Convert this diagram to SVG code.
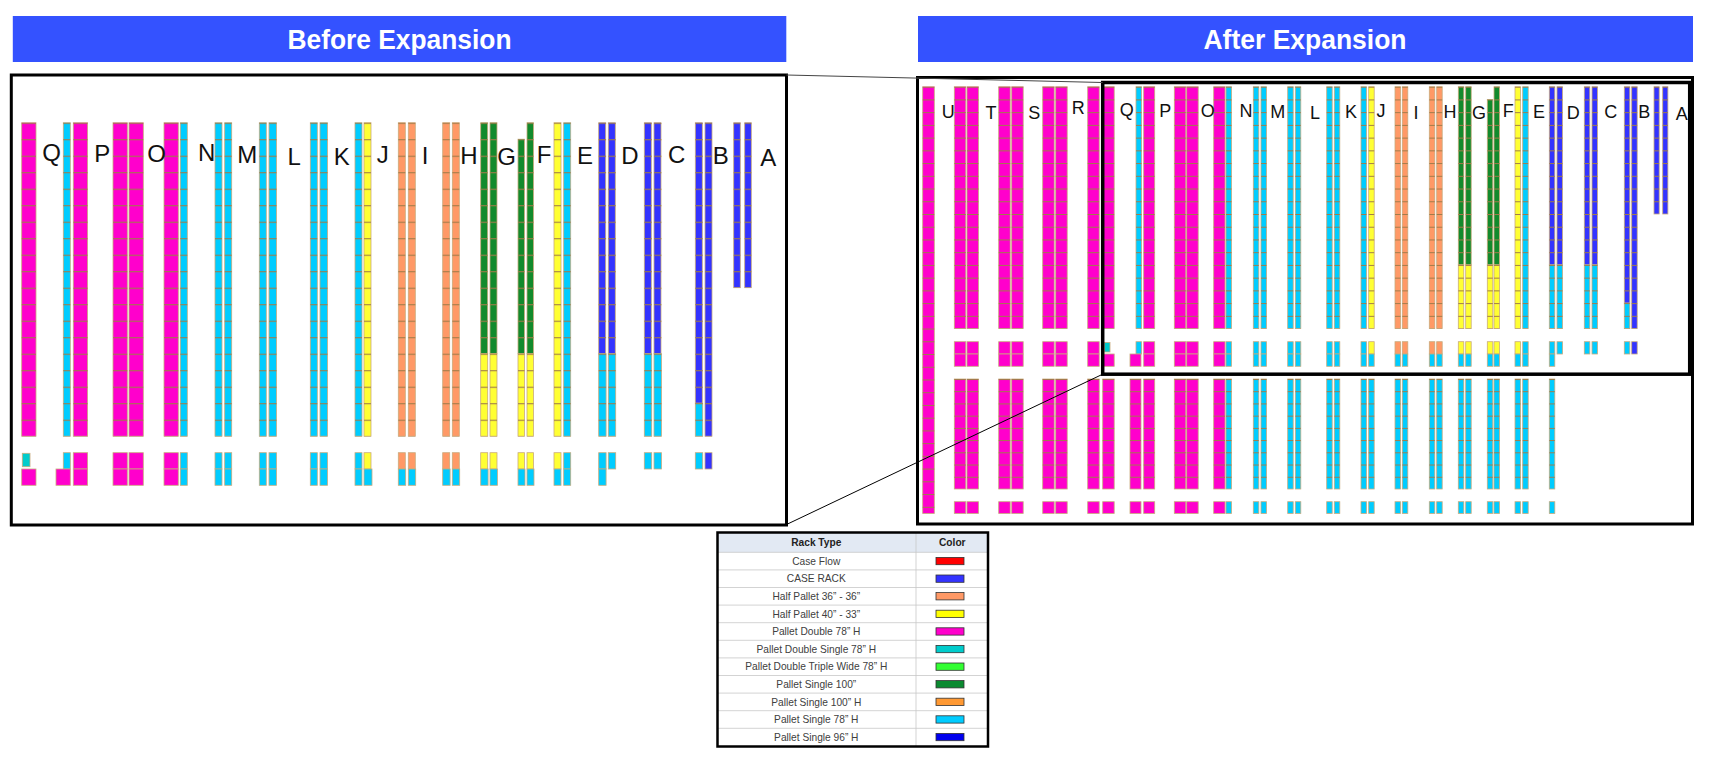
<svg xmlns="http://www.w3.org/2000/svg" width="1716" height="759" viewBox="0 0 1716 759">
<style>
rect.m,rect.c,rect.y,rect.o,rect.g,rect.b,rect.t{stroke:#c9ab7d;stroke-width:0.8}
.m{fill:#ff00cc}.c{fill:#00ccff}.y{fill:#ffff33}.o{fill:#ff9966}.g{fill:#128a2c}.b{fill:#3333ff}.t{fill:#00cccc}
.banner{fill:#3452ff}
.bt{font-family:"Liberation Sans Narrow","Liberation Sans",Arial,sans-serif;font-weight:bold;font-size:28px;fill:#fff;text-anchor:middle}
.frame{fill:none;stroke:#000}
.lb{font-family:"Liberation Sans",Arial,sans-serif;font-size:24px;fill:#111;text-anchor:middle}
.la{font-family:"Liberation Sans",Arial,sans-serif;font-size:18px;fill:#111;text-anchor:middle}
.lg{font-family:"Liberation Sans",Arial,sans-serif;font-size:10.2px;fill:#404040;text-anchor:middle}
.lgh{font-family:"Liberation Sans",Arial,sans-serif;font-size:10.2px;font-weight:bold;fill:#222;text-anchor:middle}
.sw{stroke:#333;stroke-width:0.8}
.rowl{stroke:#c8c8c8;stroke-width:0.8}
</style>
<defs>
<pattern id="pB" patternUnits="userSpaceOnUse" x="0" y="122.7" width="20" height="16.5"><rect width="20" height="1.1" fill="#a07c4a"/></pattern>
<pattern id="pA" patternUnits="userSpaceOnUse" x="0" y="86.7" width="20" height="12.73"><rect width="20" height="1" fill="#a07c4a"/></pattern>
<pattern id="pL" patternUnits="userSpaceOnUse" x="0" y="379" width="20" height="12.22"><rect width="20" height="1" fill="#a07c4a"/></pattern>
</defs>
<rect width="1716" height="759" fill="#fff"/>

<g id="before-title">
<rect class="banner" x="12.8" y="16" width="773.5" height="46"/>
<text class="bt" x="399.5" y="48.5" textLength="224" lengthAdjust="spacingAndGlyphs">Before Expansion</text>
</g>
<g id="after-title">
<rect class="banner" x="918" y="16" width="775" height="46"/>
<text class="bt" x="1305" y="48.5" textLength="203" lengthAdjust="spacingAndGlyphs">After Expansion</text>
</g>

<g id="before-panel">
<rect class="frame" x="11.3" y="75" width="775.2" height="450" stroke-width="3"/>
<g id="before-racks">
<rect class="m" x="21.7" y="122.7" width="14.3" height="313.5"/>
<rect class="c" x="63.3" y="122.7" width="7" height="313.5"/>
<rect class="m" x="73.3" y="122.7" width="14.3" height="313.5"/>
<rect class="m" x="113" y="122.7" width="14.3" height="313.5"/>
<rect class="m" x="129" y="122.7" width="14.3" height="313.5"/>
<rect class="m" x="164" y="122.7" width="14.3" height="313.5"/>
<rect class="c" x="180.3" y="122.7" width="7" height="313.5"/>
<rect class="c" x="215" y="122.7" width="7" height="313.5"/>
<rect class="c" x="224.7" y="122.7" width="7" height="313.5"/>
<rect class="c" x="259.3" y="122.7" width="7" height="313.5"/>
<rect class="c" x="269" y="122.7" width="7.5" height="313.5"/>
<rect class="c" x="310.3" y="122.7" width="7" height="313.5"/>
<rect class="c" x="320" y="122.7" width="7.5" height="313.5"/>
<rect class="c" x="355" y="122.7" width="7" height="313.5"/>
<rect class="y" x="364" y="122.7" width="7" height="313.5"/>
<rect class="o" x="398.3" y="122.7" width="7" height="313.5"/>
<rect class="o" x="408.3" y="122.7" width="7" height="313.5"/>
<rect class="o" x="442.7" y="122.7" width="7" height="313.5"/>
<rect class="o" x="452.3" y="122.7" width="7" height="313.5"/>
<rect class="g" x="480.7" y="122.7" width="7" height="231"/>
<rect class="y" x="480.7" y="353.7" width="7" height="82.5"/>
<rect class="g" x="490" y="122.7" width="7" height="231"/>
<rect class="y" x="490" y="353.7" width="7" height="82.5"/>
<rect class="g" x="518" y="139.2" width="6.5" height="214.5"/>
<rect class="y" x="518" y="353.7" width="6.5" height="82.5"/>
<rect class="g" x="527" y="122.7" width="6.5" height="231"/>
<rect class="y" x="527" y="353.7" width="6.5" height="82.5"/>
<rect class="y" x="554" y="122.7" width="7" height="313.5"/>
<rect class="c" x="563.7" y="122.7" width="7" height="313.5"/>
<rect class="b" x="598.7" y="122.7" width="7" height="231"/>
<rect class="c" x="598.7" y="353.7" width="7.4" height="82.5"/>
<rect class="b" x="608.3" y="122.7" width="7" height="231"/>
<rect class="c" x="608.3" y="353.7" width="7.4" height="82.5"/>
<rect class="b" x="644.3" y="122.7" width="7" height="231"/>
<rect class="c" x="644.3" y="353.7" width="7.4" height="82.5"/>
<rect class="b" x="654" y="122.7" width="7" height="231"/>
<rect class="c" x="654" y="353.7" width="7.4" height="82.5"/>
<rect class="b" x="695.3" y="122.7" width="7" height="280.5"/>
<rect class="c" x="695.3" y="403.2" width="7.4" height="33"/>
<rect class="b" x="705" y="122.7" width="7" height="313.5"/>
<rect class="b" x="733.7" y="122.7" width="6.6" height="165"/>
<rect class="b" x="744.7" y="122.7" width="6.6" height="165"/>
<path fill="url(#pB)" d="M21.7 122.7h14.3v313.5h-14.3zM63.3 122.7h7v313.5h-7zM73.3 122.7h14.3v313.5h-14.3zM113 122.7h14.3v313.5h-14.3zM129 122.7h14.3v313.5h-14.3zM164 122.7h14.3v313.5h-14.3zM180.3 122.7h7v313.5h-7zM215 122.7h7v313.5h-7zM224.7 122.7h7v313.5h-7zM259.3 122.7h7v313.5h-7zM269 122.7h7.5v313.5h-7.5zM310.3 122.7h7v313.5h-7zM320 122.7h7.5v313.5h-7.5zM355 122.7h7v313.5h-7zM364 122.7h7v313.5h-7zM398.3 122.7h7v313.5h-7zM408.3 122.7h7v313.5h-7zM442.7 122.7h7v313.5h-7zM452.3 122.7h7v313.5h-7zM480.7 122.7h7v313.5h-7zM490 122.7h7v313.5h-7zM518 139.2h6.5v297h-6.5zM527 122.7h6.5v313.5h-6.5zM554 122.7h7v313.5h-7zM563.7 122.7h7v313.5h-7zM598.7 122.7h7.4v313.5h-7.4zM608.3 122.7h7.4v313.5h-7.4zM644.3 122.7h7.4v313.5h-7.4zM654 122.7h7.4v313.5h-7.4zM695.3 122.7h7.4v313.5h-7.4zM705 122.7h7v313.5h-7zM733.7 122.7h6.6v165h-6.6zM744.7 122.7h6.6v165h-6.6z"/>
<rect class="t" x="22.3" y="453.3" width="7.7" height="13.4"/>
<rect class="m" x="21.7" y="469" width="14.3" height="16.3"/>
<rect class="c" x="63.3" y="452.7" width="7" height="16.3"/>
<rect class="m" x="56" y="469" width="14.3" height="16.3"/>
<rect class="m" x="73.3" y="452.7" width="14.3" height="16.3"/>
<rect class="m" x="73.3" y="469" width="14.3" height="16.3"/>
<rect class="m" x="113" y="452.7" width="14.3" height="16.3"/>
<rect class="m" x="113" y="469" width="14.3" height="16.3"/>
<rect class="m" x="129" y="452.7" width="14.3" height="16.3"/>
<rect class="m" x="129" y="469" width="14.3" height="16.3"/>
<rect class="m" x="164" y="452.7" width="14.3" height="16.3"/>
<rect class="m" x="164" y="469" width="14.3" height="16.3"/>
<rect class="c" x="180.3" y="452.7" width="7" height="16.3"/>
<rect class="c" x="180.3" y="469" width="7" height="16.3"/>
<rect class="c" x="215" y="452.7" width="7" height="16.3"/>
<rect class="c" x="215" y="469" width="7" height="16.3"/>
<rect class="c" x="224.7" y="452.7" width="7" height="16.3"/>
<rect class="c" x="224.7" y="469" width="7" height="16.3"/>
<rect class="c" x="259.3" y="452.7" width="7" height="16.3"/>
<rect class="c" x="259.3" y="469" width="7" height="16.3"/>
<rect class="c" x="269" y="452.7" width="7.5" height="16.3"/>
<rect class="c" x="269" y="469" width="7.5" height="16.3"/>
<rect class="c" x="310.3" y="452.7" width="7" height="16.3"/>
<rect class="c" x="310.3" y="469" width="7" height="16.3"/>
<rect class="c" x="320" y="452.7" width="7.5" height="16.3"/>
<rect class="c" x="320" y="469" width="7.5" height="16.3"/>
<rect class="c" x="355" y="452.7" width="7" height="16.3"/>
<rect class="y" x="364" y="452.7" width="7" height="16.3"/>
<rect class="c" x="355" y="469" width="7" height="16.3"/>
<rect class="c" x="364" y="469" width="8" height="16.3"/>
<rect class="o" x="398.3" y="452.7" width="7" height="16.3"/>
<rect class="o" x="408.3" y="452.7" width="7" height="16.3"/>
<rect class="c" x="398.3" y="469" width="7.4" height="16.3"/>
<rect class="c" x="408.3" y="469" width="7.4" height="16.3"/>
<rect class="o" x="442.7" y="452.7" width="7" height="16.3"/>
<rect class="o" x="452.3" y="452.7" width="7" height="16.3"/>
<rect class="c" x="442.7" y="469" width="7.4" height="16.3"/>
<rect class="c" x="452.3" y="469" width="7.4" height="16.3"/>
<rect class="y" x="480.7" y="452.7" width="7" height="16.3"/>
<rect class="y" x="490" y="452.7" width="7" height="16.3"/>
<rect class="c" x="480.7" y="469" width="7.4" height="16.3"/>
<rect class="c" x="490" y="469" width="7.4" height="16.3"/>
<rect class="y" x="518" y="452.7" width="6.5" height="16.3"/>
<rect class="y" x="527" y="452.7" width="6.5" height="16.3"/>
<rect class="c" x="518" y="469" width="7" height="16.3"/>
<rect class="c" x="527" y="469" width="7" height="16.3"/>
<rect class="y" x="554" y="452.7" width="7" height="16.3"/>
<rect class="c" x="563.7" y="452.7" width="7" height="16.3"/>
<rect class="c" x="554" y="469" width="7" height="16.3"/>
<rect class="c" x="563.7" y="469" width="7" height="16.3"/>
<rect class="c" x="598.7" y="452.7" width="7.4" height="16.3"/>
<rect class="c" x="608.3" y="452.7" width="7.4" height="16.3"/>
<rect class="c" x="598.7" y="469" width="7.4" height="16.3"/>
<rect class="c" x="644.3" y="452.7" width="7.4" height="16.3"/>
<rect class="c" x="654" y="452.7" width="7.4" height="16.3"/>
<rect class="c" x="695.3" y="452.7" width="7.4" height="16.3"/>
<rect class="b" x="705" y="452.7" width="7" height="16.3"/>
</g>
<g id="before-labels">
<text class="lb" x="51.7" y="161">Q</text>
<text class="lb" x="102.3" y="161.5">P</text>
<text class="lb" x="156.7" y="162">O</text>
<text class="lb" x="206.7" y="161">N</text>
<text class="lb" x="247.3" y="162.5">M</text>
<text class="lb" x="294.3" y="165">L</text>
<text class="lb" x="341.7" y="165">K</text>
<text class="lb" x="382.7" y="163.3">J</text>
<text class="lb" x="425" y="164.3">I</text>
<text class="lb" x="469" y="164">H</text>
<text class="lb" x="506.7" y="165">G</text>
<text class="lb" x="544" y="163.3">F</text>
<text class="lb" x="585" y="164">E</text>
<text class="lb" x="630" y="164">D</text>
<text class="lb" x="676.7" y="163.3">C</text>
<text class="lb" x="720.7" y="164">B</text>
<text class="lb" x="768.3" y="166">A</text>
</g>
</g>

<g id="after-panel">
<rect class="frame" x="917.5" y="77.5" width="775" height="446.5" stroke-width="3"/>
<g id="after-racks">
<rect class="m" x="922.7" y="86.7" width="11.6" height="426.8"/>
<rect class="m" x="954.3" y="86.7" width="11.5" height="241.9"/>
<rect class="m" x="967" y="86.7" width="11.5" height="241.9"/>
<rect class="m" x="998.7" y="86.7" width="11.5" height="241.9"/>
<rect class="m" x="1011.7" y="86.7" width="11.5" height="241.9"/>
<rect class="m" x="1042.7" y="86.7" width="11.5" height="241.9"/>
<rect class="m" x="1055.7" y="86.7" width="11.5" height="241.9"/>
<rect class="m" x="1087.7" y="86.7" width="11.5" height="241.9"/>
<rect class="m" x="1102.7" y="86.7" width="11.5" height="241.9"/>
<rect class="c" x="1136" y="86.7" width="5.5" height="241.9"/>
<rect class="m" x="1143.7" y="86.7" width="11" height="241.9"/>
<rect class="m" x="1174.3" y="86.7" width="11.5" height="241.9"/>
<rect class="m" x="1186.7" y="86.7" width="11.5" height="241.9"/>
<rect class="m" x="1213.7" y="86.7" width="11.3" height="241.9"/>
<rect class="c" x="1226" y="86.7" width="5.5" height="241.9"/>
<rect class="c" x="1253.3" y="86.7" width="5.5" height="241.9"/>
<rect class="c" x="1261" y="86.7" width="5.5" height="241.9"/>
<rect class="c" x="1287.7" y="86.7" width="5.5" height="241.9"/>
<rect class="c" x="1295.3" y="86.7" width="5.5" height="241.9"/>
<rect class="c" x="1326.7" y="86.7" width="5.5" height="241.9"/>
<rect class="c" x="1334.3" y="86.7" width="5.5" height="241.9"/>
<rect class="c" x="1361" y="86.7" width="5.5" height="241.9"/>
<rect class="y" x="1368.7" y="86.7" width="5.5" height="241.9"/>
<rect class="o" x="1395" y="86.7" width="5.5" height="241.9"/>
<rect class="o" x="1402.3" y="86.7" width="5.5" height="241.9"/>
<rect class="o" x="1429.3" y="86.7" width="5.5" height="241.9"/>
<rect class="o" x="1436.7" y="86.7" width="5.5" height="241.9"/>
<rect class="g" x="1458.3" y="86.7" width="5.5" height="178.2"/>
<rect class="y" x="1458.3" y="264.9" width="5.5" height="63.7"/>
<rect class="g" x="1465.7" y="86.7" width="5.5" height="178.2"/>
<rect class="y" x="1465.7" y="264.9" width="5.5" height="63.7"/>
<rect class="g" x="1487.3" y="99.4" width="5.5" height="165.5"/>
<rect class="y" x="1487.3" y="264.9" width="5.5" height="63.7"/>
<rect class="g" x="1494" y="86.7" width="5.5" height="178.2"/>
<rect class="y" x="1494" y="264.9" width="5.5" height="63.7"/>
<rect class="y" x="1515" y="86.7" width="5.5" height="241.9"/>
<rect class="c" x="1522.7" y="86.7" width="5.5" height="241.9"/>
<rect class="b" x="1549.3" y="86.7" width="5.5" height="178.2"/>
<rect class="c" x="1549.3" y="264.9" width="5.5" height="63.7"/>
<rect class="b" x="1557" y="86.7" width="5.5" height="178.2"/>
<rect class="c" x="1557" y="264.9" width="5.5" height="63.7"/>
<rect class="b" x="1584.3" y="86.7" width="5.5" height="178.2"/>
<rect class="c" x="1584.3" y="264.9" width="5.5" height="63.7"/>
<rect class="b" x="1592" y="86.7" width="5.5" height="178.2"/>
<rect class="c" x="1592" y="264.9" width="5.5" height="63.7"/>
<rect class="b" x="1624.3" y="86.7" width="5.5" height="216.4"/>
<rect class="c" x="1624.3" y="303.1" width="5.5" height="25.5"/>
<rect class="b" x="1631.7" y="86.7" width="5.5" height="241.9"/>
<rect class="b" x="1654" y="86.7" width="5.2" height="127.3"/>
<rect class="b" x="1662.7" y="86.7" width="5.2" height="127.3"/>
<path fill="url(#pA)" d="M922.7 86.7h11.6v426.8h-11.6zM954.3 86.7h11.5v241.9h-11.5zM967 86.7h11.5v241.9h-11.5zM998.7 86.7h11.5v241.9h-11.5zM1011.7 86.7h11.5v241.9h-11.5zM1042.7 86.7h11.5v241.9h-11.5zM1055.7 86.7h11.5v241.9h-11.5zM1087.7 86.7h11.5v241.9h-11.5zM1102.7 86.7h11.5v241.9h-11.5zM1136 86.7h5.5v241.9h-5.5zM1143.7 86.7h11v241.9h-11zM1174.3 86.7h11.5v241.9h-11.5zM1186.7 86.7h11.5v241.9h-11.5zM1213.7 86.7h11.3v241.9h-11.3zM1226 86.7h5.5v241.9h-5.5zM1253.3 86.7h5.5v241.9h-5.5zM1261 86.7h5.5v241.9h-5.5zM1287.7 86.7h5.5v241.9h-5.5zM1295.3 86.7h5.5v241.9h-5.5zM1326.7 86.7h5.5v241.9h-5.5zM1334.3 86.7h5.5v241.9h-5.5zM1361 86.7h5.5v241.9h-5.5zM1368.7 86.7h5.5v241.9h-5.5zM1395 86.7h5.5v241.9h-5.5zM1402.3 86.7h5.5v241.9h-5.5zM1429.3 86.7h5.5v241.9h-5.5zM1436.7 86.7h5.5v241.9h-5.5zM1458.3 86.7h5.5v241.9h-5.5zM1465.7 86.7h5.5v241.9h-5.5zM1487.3 99.4h5.5v229.2h-5.5zM1494 86.7h5.5v241.9h-5.5zM1515 86.7h5.5v241.9h-5.5zM1522.7 86.7h5.5v241.9h-5.5zM1549.3 86.7h5.5v241.9h-5.5zM1557 86.7h5.5v241.9h-5.5zM1584.3 86.7h5.5v241.9h-5.5zM1592 86.7h5.5v241.9h-5.5zM1624.3 86.7h5.5v241.9h-5.5zM1631.7 86.7h5.5v241.9h-5.5zM1654 86.7h5.2v127.3h-5.2zM1662.7 86.7h5.2v127.3h-5.2z"/>
<rect class="m" x="954.3" y="341.7" width="11.5" height="12.3"/><rect class="m" x="954.3" y="354" width="11.5" height="12.3"/>
<rect class="m" x="967" y="341.7" width="11.5" height="12.3"/><rect class="m" x="967" y="354" width="11.5" height="12.3"/>
<rect class="m" x="998.7" y="341.7" width="11.5" height="12.3"/><rect class="m" x="998.7" y="354" width="11.5" height="12.3"/>
<rect class="m" x="1011.7" y="341.7" width="11.5" height="12.3"/><rect class="m" x="1011.7" y="354" width="11.5" height="12.3"/>
<rect class="m" x="1042.7" y="341.7" width="11.5" height="12.3"/><rect class="m" x="1042.7" y="354" width="11.5" height="12.3"/>
<rect class="m" x="1055.7" y="341.7" width="11.5" height="12.3"/><rect class="m" x="1055.7" y="354" width="11.5" height="12.3"/>
<rect class="m" x="1087.7" y="341.7" width="11.5" height="12.3"/><rect class="m" x="1087.7" y="354" width="11.5" height="12.3"/>
<rect class="t" x="1104.3" y="342.5" width="5.7" height="9.5"/><rect class="m" x="1102.7" y="354" width="11.5" height="12.3"/>
<rect class="c" x="1136" y="341.7" width="5.5" height="12.3"/><rect class="m" x="1130" y="354" width="11" height="12.3"/>
<rect class="m" x="1143.7" y="341.7" width="11" height="12.3"/><rect class="m" x="1143.7" y="354" width="11" height="12.3"/>
<rect class="m" x="1174.3" y="341.7" width="11.5" height="12.3"/><rect class="m" x="1174.3" y="354" width="11.5" height="12.3"/>
<rect class="m" x="1186.7" y="341.7" width="11.5" height="12.3"/><rect class="m" x="1186.7" y="354" width="11.5" height="12.3"/>
<rect class="m" x="1213.7" y="341.7" width="11.3" height="12.3"/><rect class="m" x="1213.7" y="354" width="11.3" height="12.3"/>
<rect class="c" x="1226" y="341.7" width="5.5" height="12.3"/><rect class="c" x="1226" y="354" width="5.5" height="12.3"/>
<rect class="c" x="1253.3" y="341.7" width="5.5" height="12.3"/><rect class="c" x="1253.3" y="354" width="5.5" height="12.3"/>
<rect class="c" x="1261" y="341.7" width="5.5" height="12.3"/><rect class="c" x="1261" y="354" width="5.5" height="12.3"/>
<rect class="c" x="1287.7" y="341.7" width="5.5" height="12.3"/><rect class="c" x="1287.7" y="354" width="5.5" height="12.3"/>
<rect class="c" x="1295.3" y="341.7" width="5.5" height="12.3"/><rect class="c" x="1295.3" y="354" width="5.5" height="12.3"/>
<rect class="c" x="1326.7" y="341.7" width="5.5" height="12.3"/><rect class="c" x="1326.7" y="354" width="5.5" height="12.3"/>
<rect class="c" x="1334.3" y="341.7" width="5.5" height="12.3"/><rect class="c" x="1334.3" y="354" width="5.5" height="12.3"/>
<rect class="c" x="1361" y="341.7" width="5.5" height="12.3"/><rect class="c" x="1361" y="354" width="5.5" height="12.3"/>
<rect class="y" x="1368.7" y="341.7" width="5.5" height="12.3"/><rect class="c" x="1368.7" y="354" width="5.5" height="12.3"/>
<rect class="o" x="1395" y="341.7" width="5.5" height="12.3"/><rect class="c" x="1395" y="354" width="5.5" height="12.3"/>
<rect class="o" x="1402.3" y="341.7" width="5.5" height="12.3"/><rect class="c" x="1402.3" y="354" width="5.5" height="12.3"/>
<rect class="o" x="1429.3" y="341.7" width="5.5" height="12.3"/><rect class="c" x="1429.3" y="354" width="5.5" height="12.3"/>
<rect class="o" x="1436.7" y="341.7" width="5.5" height="12.3"/><rect class="c" x="1436.7" y="354" width="5.5" height="12.3"/>
<rect class="y" x="1458.3" y="341.7" width="5.5" height="12.3"/><rect class="c" x="1458.3" y="354" width="5.5" height="12.3"/>
<rect class="y" x="1465.7" y="341.7" width="5.5" height="12.3"/><rect class="c" x="1465.7" y="354" width="5.5" height="12.3"/>
<rect class="y" x="1487.3" y="341.7" width="5.5" height="12.3"/><rect class="c" x="1487.3" y="354" width="5.5" height="12.3"/>
<rect class="y" x="1494" y="341.7" width="5.5" height="12.3"/><rect class="c" x="1494" y="354" width="5.5" height="12.3"/>
<rect class="y" x="1515" y="341.7" width="5.5" height="12.3"/><rect class="c" x="1515" y="354" width="5.5" height="12.3"/>
<rect class="c" x="1522.7" y="341.7" width="5.5" height="12.3"/><rect class="c" x="1522.7" y="354" width="5.5" height="12.3"/>
<rect class="c" x="1549.3" y="341.7" width="5.5" height="12.3"/><rect class="c" x="1549.3" y="354" width="5.5" height="12.3"/>
<rect class="c" x="1557" y="341.7" width="5.5" height="12.3"/>
<rect class="c" x="1584.3" y="341.7" width="5.5" height="12.3"/>
<rect class="c" x="1592" y="341.7" width="5.5" height="12.3"/>
<rect class="c" x="1624.3" y="341.7" width="5.5" height="12.3"/>
<rect class="b" x="1631.7" y="341.7" width="5.5" height="12.3"/>
<rect class="m" x="954.3" y="379" width="11.5" height="110"/>
<rect class="m" x="967" y="379" width="11.5" height="110"/>
<rect class="m" x="998.7" y="379" width="11.5" height="110"/>
<rect class="m" x="1011.7" y="379" width="11.5" height="110"/>
<rect class="m" x="1042.7" y="379" width="11.5" height="110"/>
<rect class="m" x="1055.7" y="379" width="11.5" height="110"/>
<rect class="m" x="1087.7" y="379" width="11.5" height="110"/>
<rect class="m" x="1102.7" y="379" width="11.5" height="110"/>
<rect class="m" x="1130" y="379" width="11" height="110"/>
<rect class="m" x="1143.7" y="379" width="11" height="110"/>
<rect class="m" x="1174.3" y="379" width="11.5" height="110"/>
<rect class="m" x="1186.7" y="379" width="11.5" height="110"/>
<rect class="m" x="1213.7" y="379" width="11.3" height="110"/>
<rect class="c" x="1226" y="379" width="5.5" height="110"/>
<rect class="c" x="1253.3" y="379" width="5.5" height="110"/>
<rect class="c" x="1261" y="379" width="5.5" height="110"/>
<rect class="c" x="1287.7" y="379" width="5.5" height="110"/>
<rect class="c" x="1295.3" y="379" width="5.5" height="110"/>
<rect class="c" x="1326.7" y="379" width="5.5" height="110"/>
<rect class="c" x="1334.3" y="379" width="5.5" height="110"/>
<rect class="c" x="1361" y="379" width="5.5" height="110"/>
<rect class="c" x="1368.7" y="379" width="5.5" height="110"/>
<rect class="c" x="1395" y="379" width="5.5" height="110"/>
<rect class="c" x="1402.3" y="379" width="5.5" height="110"/>
<rect class="c" x="1429.3" y="379" width="5.5" height="110"/>
<rect class="c" x="1436.7" y="379" width="5.5" height="110"/>
<rect class="c" x="1458.3" y="379" width="5.5" height="110"/>
<rect class="c" x="1465.7" y="379" width="5.5" height="110"/>
<rect class="c" x="1487.3" y="379" width="5.5" height="110"/>
<rect class="c" x="1494" y="379" width="5.5" height="110"/>
<rect class="c" x="1515" y="379" width="5.5" height="110"/>
<rect class="c" x="1522.7" y="379" width="5.5" height="110"/>
<rect class="c" x="1549.3" y="379" width="5.5" height="110"/>
<path fill="url(#pL)" d="M954.3 379h11.5v110h-11.5zM967 379h11.5v110h-11.5zM998.7 379h11.5v110h-11.5zM1011.7 379h11.5v110h-11.5zM1042.7 379h11.5v110h-11.5zM1055.7 379h11.5v110h-11.5zM1087.7 379h11.5v110h-11.5zM1102.7 379h11.5v110h-11.5zM1130 379h11v110h-11zM1143.7 379h11v110h-11zM1174.3 379h11.5v110h-11.5zM1186.7 379h11.5v110h-11.5zM1213.7 379h11.3v110h-11.3zM1226 379h5.5v110h-5.5zM1253.3 379h5.5v110h-5.5zM1261 379h5.5v110h-5.5zM1287.7 379h5.5v110h-5.5zM1295.3 379h5.5v110h-5.5zM1326.7 379h5.5v110h-5.5zM1334.3 379h5.5v110h-5.5zM1361 379h5.5v110h-5.5zM1368.7 379h5.5v110h-5.5zM1395 379h5.5v110h-5.5zM1402.3 379h5.5v110h-5.5zM1429.3 379h5.5v110h-5.5zM1436.7 379h5.5v110h-5.5zM1458.3 379h5.5v110h-5.5zM1465.7 379h5.5v110h-5.5zM1487.3 379h5.5v110h-5.5zM1494 379h5.5v110h-5.5zM1515 379h5.5v110h-5.5zM1522.7 379h5.5v110h-5.5zM1549.3 379h5.5v110h-5.5z"/>
<rect class="m" x="954.3" y="501.7" width="11.5" height="11.8"/>
<rect class="m" x="967" y="501.7" width="11.5" height="11.8"/>
<rect class="m" x="998.7" y="501.7" width="11.5" height="11.8"/>
<rect class="m" x="1011.7" y="501.7" width="11.5" height="11.8"/>
<rect class="m" x="1042.7" y="501.7" width="11.5" height="11.8"/>
<rect class="m" x="1055.7" y="501.7" width="11.5" height="11.8"/>
<rect class="m" x="1087.7" y="501.7" width="11.5" height="11.8"/>
<rect class="m" x="1102.7" y="501.7" width="11.5" height="11.8"/>
<rect class="m" x="1130" y="501.7" width="11" height="11.8"/>
<rect class="m" x="1143.7" y="501.7" width="11" height="11.8"/>
<rect class="m" x="1174.3" y="501.7" width="11.5" height="11.8"/>
<rect class="m" x="1186.7" y="501.7" width="11.5" height="11.8"/>
<rect class="m" x="1213.7" y="501.7" width="11.3" height="11.8"/>
<rect class="c" x="1226" y="501.7" width="5.5" height="11.8"/>
<rect class="c" x="1253.3" y="501.7" width="5.5" height="11.8"/>
<rect class="c" x="1261" y="501.7" width="5.5" height="11.8"/>
<rect class="c" x="1287.7" y="501.7" width="5.5" height="11.8"/>
<rect class="c" x="1295.3" y="501.7" width="5.5" height="11.8"/>
<rect class="c" x="1326.7" y="501.7" width="5.5" height="11.8"/>
<rect class="c" x="1334.3" y="501.7" width="5.5" height="11.8"/>
<rect class="c" x="1361" y="501.7" width="5.5" height="11.8"/>
<rect class="c" x="1368.7" y="501.7" width="5.5" height="11.8"/>
<rect class="c" x="1395" y="501.7" width="5.5" height="11.8"/>
<rect class="c" x="1402.3" y="501.7" width="5.5" height="11.8"/>
<rect class="c" x="1429.3" y="501.7" width="5.5" height="11.8"/>
<rect class="c" x="1436.7" y="501.7" width="5.5" height="11.8"/>
<rect class="c" x="1458.3" y="501.7" width="5.5" height="11.8"/>
<rect class="c" x="1465.7" y="501.7" width="5.5" height="11.8"/>
<rect class="c" x="1487.3" y="501.7" width="5.5" height="11.8"/>
<rect class="c" x="1494" y="501.7" width="5.5" height="11.8"/>
<rect class="c" x="1515" y="501.7" width="5.5" height="11.8"/>
<rect class="c" x="1522.7" y="501.7" width="5.5" height="11.8"/>
<rect class="c" x="1549.3" y="501.7" width="5.5" height="11.8"/>
</g>
<g id="after-labels">
<text class="la" x="948.3" y="118.3">U</text>
<text class="la" x="991" y="119.3">T</text>
<text class="la" x="1034.3" y="119">S</text>
<text class="la" x="1078.3" y="114.3">R</text>
<text class="la" x="1126.7" y="116">Q</text>
<text class="la" x="1165.3" y="116.7">P</text>
<text class="la" x="1207.7" y="117.3">O</text>
<text class="la" x="1246" y="116.7">N</text>
<text class="la" x="1277.7" y="117.7">M</text>
<text class="la" x="1315" y="119.3">L</text>
<text class="la" x="1351" y="118.3">K</text>
<text class="la" x="1381" y="116.7">J</text>
<text class="la" x="1416" y="119.3">I</text>
<text class="la" x="1450" y="117.7">H</text>
<text class="la" x="1479" y="119.3">G</text>
<text class="la" x="1508.3" y="117.3">F</text>
<text class="la" x="1539" y="118.3">E</text>
<text class="la" x="1573.3" y="118.7">D</text>
<text class="la" x="1610.7" y="117.7">C</text>
<text class="la" x="1644.3" y="117.7">B</text>
<text class="la" x="1681.7" y="120">A</text>
</g>
<rect id="zoom-area" class="frame" x="1102.7" y="82.5" width="587" height="291.7" stroke-width="3.5"/>
</g>

<g id="connectors" stroke="#000" stroke-width="1" fill="none">
<line x1="786.5" y1="75" x2="1102.7" y2="82.5" stroke="#444"/>
<line x1="786.5" y1="524.5" x2="1102.7" y2="374.2"/>
</g>

<g id="legend">
<rect x="717.5" y="532.5" width="270.5" height="214" fill="#fff"/>
<rect x="717.5" y="532.5" width="270.5" height="19.8" fill="#e2e9f3"/>
<g class="rowl">
<line x1="717.5" y1="552.3" x2="988" y2="552.3"/>
<line x1="717.5" y1="569.9" x2="988" y2="569.9"/>
<line x1="717.5" y1="587.5" x2="988" y2="587.5"/>
<line x1="717.5" y1="605.1" x2="988" y2="605.1"/>
<line x1="717.5" y1="622.7" x2="988" y2="622.7"/>
<line x1="717.5" y1="640.3" x2="988" y2="640.3"/>
<line x1="717.5" y1="657.9" x2="988" y2="657.9"/>
<line x1="717.5" y1="675.5" x2="988" y2="675.5"/>
<line x1="717.5" y1="693.1" x2="988" y2="693.1"/>
<line x1="717.5" y1="710.7" x2="988" y2="710.7"/>
<line x1="717.5" y1="728.3" x2="988" y2="728.3"/>
<line x1="916" y1="532.5" x2="916" y2="746.5"/>
</g>
<text class="lgh" x="816.3" y="545.8">Rack Type</text>
<text class="lgh" x="952.3" y="545.8">Color</text>
<text class="lg" x="816.3" y="564.7">Case Flow</text>
<text class="lg" x="816.3" y="582.3">CASE RACK</text>
<text class="lg" x="816.3" y="599.9">Half Pallet 36” - 36”</text>
<text class="lg" x="816.3" y="617.5">Half Pallet 40” - 33”</text>
<text class="lg" x="816.3" y="635.1">Pallet Double 78” H</text>
<text class="lg" x="816.3" y="652.7">Pallet Double Single 78” H</text>
<text class="lg" x="816.3" y="670.3">Pallet Double Triple Wide 78” H</text>
<text class="lg" x="816.3" y="687.9">Pallet Single 100”</text>
<text class="lg" x="816.3" y="705.5">Pallet Single 100” H</text>
<text class="lg" x="816.3" y="723.1">Pallet Single 78” H</text>
<text class="lg" x="816.3" y="740.7">Pallet Single 96” H</text>
<rect class="sw" x="936" y="557.4" width="28" height="7.3" fill="#ff0000"/>
<rect class="sw" x="936" y="575" width="28" height="7.3" fill="#3333ff"/>
<rect class="sw" x="936" y="592.6" width="28" height="7.3" fill="#ff9966"/>
<rect class="sw" x="936" y="610.2" width="28" height="7.3" fill="#ffff00"/>
<rect class="sw" x="936" y="627.8" width="28" height="7.3" fill="#ff00cc"/>
<rect class="sw" x="936" y="645.4" width="28" height="7.3" fill="#00cccc"/>
<rect class="sw" x="936" y="663" width="28" height="7.3" fill="#33ff33"/>
<rect class="sw" x="936" y="680.6" width="28" height="7.3" fill="#0a8a30"/>
<rect class="sw" x="936" y="698.2" width="28" height="7.3" fill="#ff9933"/>
<rect class="sw" x="936" y="715.8" width="28" height="7.3" fill="#00ccff"/>
<rect class="sw" x="936" y="733.4" width="28" height="7.3" fill="#0000ee"/>
<rect x="717.5" y="532.5" width="270.5" height="214" fill="none" stroke="#000" stroke-width="2.5"/>
</g>
</svg>
